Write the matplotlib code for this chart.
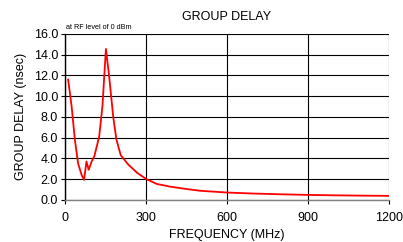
import matplotlib
matplotlib.use("Agg")
import matplotlib.pyplot as plt

# frequency (MHz) and group delay (nsec)
freq = [12, 25, 37, 49, 62, 71, 80, 88, 99, 109, 127, 139, 152, 164, 179, 191,
        207, 235, 268, 302, 340, 389, 450, 500, 600, 700, 800, 900, 1000, 1100, 1200]
delay = [11.6, 9.0, 5.8, 3.5, 2.4, 1.93, 3.7, 2.9, 3.7, 4.2, 6.1, 9.0, 14.55, 11.9, 8.0, 5.8,
         4.3, 3.4, 2.6, 2.0, 1.54, 1.28, 1.05, 0.88, 0.71, 0.61, 0.54, 0.48, 0.44, 0.41, 0.39]

x_ticks = [0, 300, 600, 900, 1200]
y_ticks = [0, 2, 4, 6, 8, 10, 12, 14, 16]

plt.rcParams['font.family'] = ['Liberation Sans', 'DejaVu Sans']

fig = plt.figure(figsize=(4.03, 2.42), dpi=100)
ax = fig.add_axes([0.161, 0.174, 0.804, 0.686])

ax.plot(freq, delay, color='red', linewidth=1.3)

ax.set_xlim(0, 1200)
ax.set_ylim(0, 16)
ax.set_xticks(x_ticks)
ax.set_yticks(y_ticks)
ax.set_yticklabels([f'{v:.1f}' for v in y_ticks])
ax.grid(True, color='black', linewidth=0.8)
ax.set_axisbelow(True)

for s in ['top', 'right']:
    ax.spines[s].set_visible(False)
ax.spines['left'].set_linewidth(1.0)
ax.spines['bottom'].set_color('#808080')
ax.spines['bottom'].set_linewidth(1.0)

ax.tick_params(axis='both', labelsize=9, length=3, width=0.8, color='black', pad=2)
ax.tick_params(axis='x', pad=6)

ax.set_xlabel('FREQUENCY (MHz)', fontsize=9, labelpad=3)
ax.set_ylabel('GROUP DELAY (nsec)', fontsize=9, labelpad=5)
ax.set_title('GROUP DELAY', fontsize=9, pad=10)
fig.text(0.164, 0.88, 'at RF level of 0 dBm', fontsize=5.2)

fig.savefig('out.png', dpi=100)
